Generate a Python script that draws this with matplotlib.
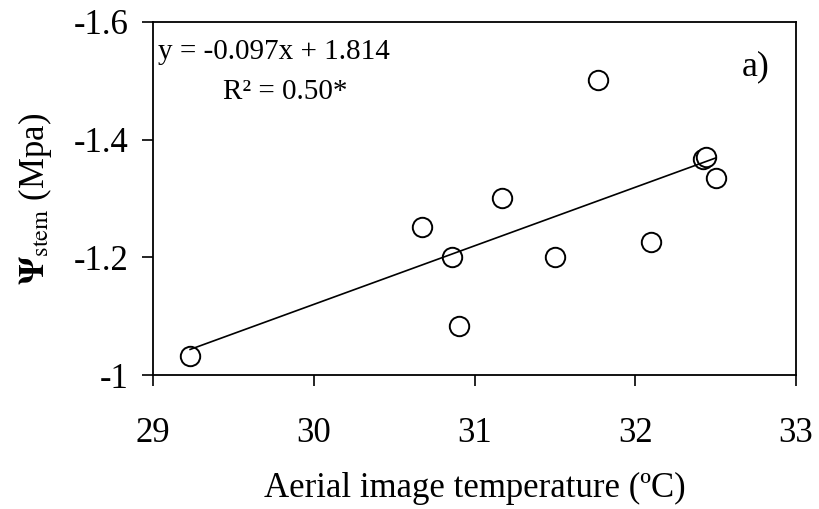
import numpy as np
import matplotlib.pyplot as plt

plt.rcParams['font.family'] = ['Liberation Serif', 'DejaVu Serif']
plt.rcParams['mathtext.fontset'] = 'stix'

# aerial image temperature (ºC) and stem water potential (MPa)
temp = [29.23, 30.67, 30.86, 30.90, 31.17, 31.50, 31.77, 32.10, 32.42, 32.44, 32.50]
psi = [-1.033, -1.251, -1.201, -1.084, -1.301, -1.201, -1.501, -1.226, -1.367, -1.370, -1.335]

xticks = [29, 30, 31, 32, 33]
yticks = [-1.0, -1.2, -1.4, -1.6]
ytick_labels = ['-1', '-1.2', '-1.4', '-1.6']

fig = plt.figure(figsize=(8.19, 5.09), dpi=100)
ax = fig.add_axes([0.187, 0.263, 0.785, 0.694])

ax.plot(temp, psi, 'o', mfc='white', mec='black', ms=14, mew=1.4, linestyle='none')

# linear fit
coef = np.polyfit(temp, psi, 1)
xs = np.array([min(temp), max(temp)])
ax.plot(xs, np.polyval(coef, xs), color='black', lw=1.2)

ax.set_xlim(29, 33)
ax.set_ylim(-1.0, -1.6)
ax.set_xticks(xticks)
ax.set_yticks(yticks)
ax.set_yticklabels(ytick_labels)
ax.tick_params(direction='out', length=8, width=1.2, labelsize=25)
ax.tick_params(axis='x', pad=22)
ax.tick_params(axis='y', pad=10)
for s in ax.spines.values():
    s.set_linewidth(1.3)

ax.set_xlabel('Aerial image temperature (ºC)', fontsize=25, labelpad=16)
ax.set_ylabel(r'$\mathbf{\Psi}_{\mathrm{stem}}$ (Mpa)', fontsize=25, labelpad=14)

ax.text(0.008, 0.895, 'y = -0.097x + 1.814', transform=ax.transAxes, fontsize=21)
ax.text(0.109, 0.782, 'R² = 0.50*', transform=ax.transAxes, fontsize=21)
ax.text(0.915, 0.848, 'a)', transform=ax.transAxes, fontsize=26)

fig.savefig('out.png', dpi=100)
